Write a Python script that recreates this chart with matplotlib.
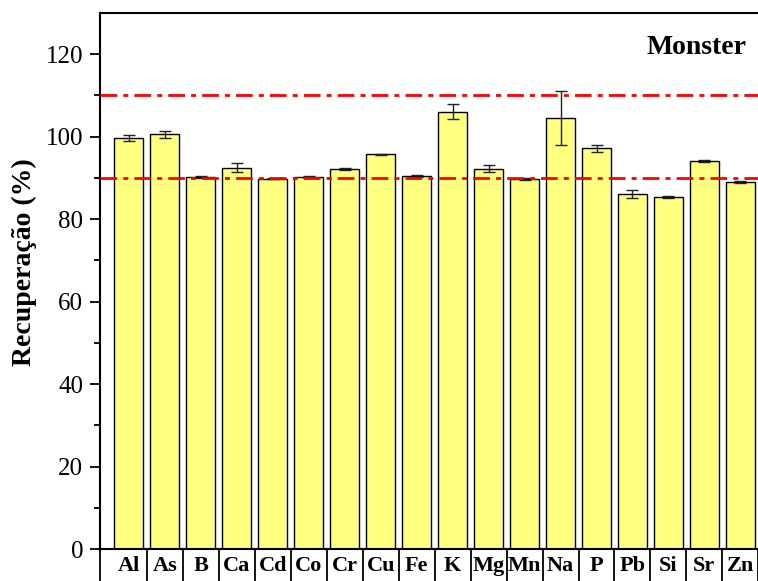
import numpy as np
import matplotlib.pyplot as plt

# element recoveries
elements = ['Al', 'As', 'B', 'Ca', 'Cd', 'Co', 'Cr', 'Cu', 'Fe',
            'K', 'Mg', 'Mn', 'Na', 'P', 'Pb', 'Si', 'Sr', 'Zn']
recovery = [99.7, 100.6, 90.3, 92.5, 89.8, 90.2, 92.2, 95.7, 90.4,
            106.1, 92.2, 89.7, 104.6, 97.2, 86.1, 85.3, 94.1, 89.0]
error = [0.8, 0.9, 0.2, 1.0, 0.15, 0.2, 0.2, 0.2, 0.2,
         1.9, 0.85, 0.2, 6.6, 0.9, 0.9, 0.2, 0.2, 0.2]
limits = [90, 110]

plt.rcParams['font.family'] = ['Liberation Serif', 'DejaVu Serif']

fig = plt.figure(figsize=(7.58, 5.81), dpi=100)
ax = fig.add_axes([100 / 758, 32 / 581, 662 / 758, 536 / 581])

x = np.arange(len(elements))
ax.bar(x, recovery, width=0.8, color='#FFFF80', edgecolor='black', linewidth=1,
       yerr=error, error_kw=dict(ecolor='#222222', elinewidth=1, capsize=4, capthick=1),
       zorder=2)

for lim in limits:
    ax.axhline(lim, color='red', linewidth=2, linestyle=(0, (6, 2.2, 1.8, 2.2)), zorder=3)

ax.set_xlim(-0.8, 17.6)
ax.set_ylim(0, 130)

ax.set_yticks(np.arange(0, 121, 20))
ax.set_yticks(np.arange(10, 121, 20), minor=True)
ax.tick_params(axis='y', which='major', direction='out', length=7, width=1.3,
               labelsize=18, pad=5)
ax.tick_params(axis='y', which='minor', direction='out', length=4, width=1.3)

ax.set_xticks(x)
ax.set_xticklabels(elements, fontweight='bold', fontsize=16)
ax.set_xticks(np.concatenate([[-0.8], x[:-1] + 0.5, [17.5]]), minor=True)
ax.tick_params(axis='x', which='major', length=0, pad=5)
ax.tick_params(axis='x', which='minor', direction='out', length=25, width=1.3)

for side in ['left', 'bottom', 'top']:
    ax.spines[side].set_linewidth(1.5)
ax.spines['right'].set_visible(False)

ax.set_ylabel('Recuperação (%)', fontsize=20, fontweight='bold')
ax.yaxis.set_label_coords(-0.095, 0.535)
ax.text(0.976, 0.935, 'Monster', transform=ax.transAxes, ha='right', va='center',
        fontsize=20, fontweight='bold')

fig.savefig('out.png', dpi=100)
